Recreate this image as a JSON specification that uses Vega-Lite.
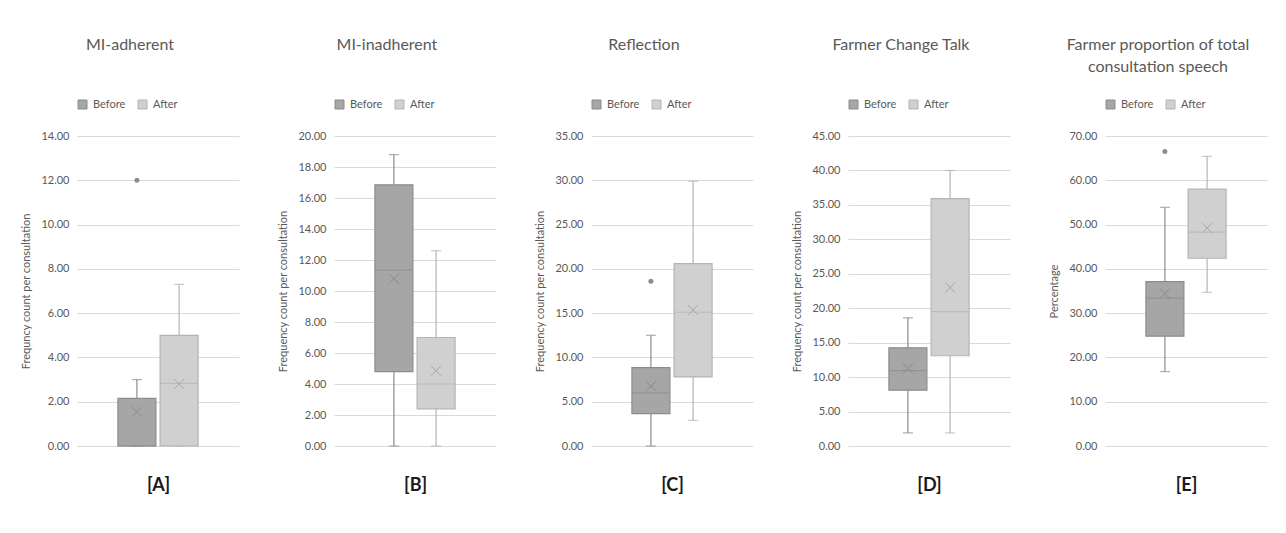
{
  "$schema": "https://vega.github.io/schema/vega-lite/v6.json",
  "background": "white",
  "padding": {"left": 20, "top": 37, "right": 5, "bottom": 5},
  "datasets": {
    "stats": [
      {"panel": "A", "group": "Before", "min": 0, "q1": 0, "median": 0, "q3": 2.15, "max": 3.0, "mean": 1.55},
      {"panel": "A", "group": "After", "min": 0, "q1": 0, "median": 2.83, "q3": 5.0, "max": 7.3, "mean": 2.8},
      {"panel": "B", "group": "Before", "min": 0, "q1": 4.8, "median": 11.35, "q3": 16.85, "max": 18.8, "mean": 10.8},
      {"panel": "B", "group": "After", "min": 0, "q1": 2.4, "median": 4.0, "q3": 7.0, "max": 12.6, "mean": 4.85},
      {"panel": "C", "group": "Before", "min": 0, "q1": 3.65, "median": 6.0, "q3": 8.85, "max": 12.5, "mean": 6.75},
      {"panel": "C", "group": "After", "min": 2.9, "q1": 7.8, "median": 15.1, "q3": 20.6, "max": 29.9, "mean": 15.35},
      {"panel": "D", "group": "Before", "min": 1.9, "q1": 8.1, "median": 10.95, "q3": 14.25, "max": 18.6, "mean": 11.25},
      {"panel": "D", "group": "After", "min": 1.9, "q1": 13.1, "median": 19.5, "q3": 35.9, "max": 40.0, "mean": 23.0},
      {"panel": "E", "group": "Before", "min": 16.8, "q1": 24.8, "median": 33.4, "q3": 37.1, "max": 53.9, "mean": 34.4},
      {"panel": "E", "group": "After", "min": 34.7, "q1": 42.4, "median": 48.3, "q3": 58.0, "max": 65.4, "mean": 49.2}
    ],
    "outliers": [
      {"panel": "A", "group": "Before", "value": 12.0},
      {"panel": "C", "group": "Before", "value": 18.6},
      {"panel": "E", "group": "Before", "value": 66.5}
    ]
  },
  "config": {
    "font": "Lato",
    "view": {"stroke": null},
    "title": {"fontSize": 16, "fontWeight": "normal", "color": "#595959", "anchor": "middle", "frame": "bounds", "lineHeight": 22, "font": "Lato"},
    "axis": {"labelFont": "Lato", "titleFont": "Lato", "labelFontSize": 11, "labelColor": "#595959", "titleFontSize": 11, "titleFontWeight": "normal", "titleColor": "#595959", "gridColor": "#d9d9d9", "gridWidth": 1, "labelOverlap": false},
    "axisY": {"ticks": false, "domain": false, "labelPadding": 8, "titlePadding": 9, "labelOverlap": false},
    "legend": {"orient": "top", "direction": "horizontal", "symbolType": "square", "symbolSize": 81, "symbolStrokeWidth": 1, "labelFont": "Lato", "labelFontSize": 11, "labelColor": "#595959", "offset": 25, "columnPadding": 10, "labelOffset": 5}
  },
  "bounds": "flush",
  "spacing": 95,
  "resolve": {
    "scale": {"x": "independent", "y": "independent", "fill": "independent", "stroke": "independent"},
    "legend": {"fill": "independent", "stroke": "independent"}
  },
  "hconcat": [
    {
      "width": 162, "height": 310,
      "title": {"text": "MI-adherent", "offset": 46},
      "data": {"name": "stats"},
      "transform": [{"filter": "datum.panel === 'A'"}],
      "encoding": {"x": {"field": "group", "type": "nominal", "sort": ["Before", "After"], "scale": {"domain": ["Before", "After"], "paddingInner": 0.1, "paddingOuter": 0.97}, "axis": {"title": "[A]", "labels": false, "ticks": false, "domain": false, "grid": false, "titlePadding": 30, "titleFontSize": 18, "titleFontWeight": "bold", "titleColor": "#1a1a1a"}}},
      "layer": [
        {"mark": {"type": "rule", "strokeWidth": 1.2}, "encoding": {"y": {"field": "min", "type": "quantitative", "title": "Frequncy count per consultation", "scale": {"domain": [0, 14], "nice": false}, "axis": {"values": [0, 2, 4, 6, 8, 10, 12, 14], "format": ".2f"}}, "y2": {"field": "max"}, "color": {"condition": {"test": "datum.group === 'Before'", "value": "#8c8c8c"}, "value": "#b4b4b4"}}},
        {"mark": {"type": "tick", "size": 10, "thickness": 1.2}, "encoding": {"y": {"field": "max", "type": "quantitative", "title": "Frequncy count per consultation", "axis": {"values": [0, 2, 4, 6, 8, 10, 12, 14], "format": ".2f"}}, "color": {"condition": {"test": "datum.group === 'Before'", "value": "#8c8c8c"}, "value": "#b4b4b4"}}},
        {"mark": {"type": "tick", "size": 10, "thickness": 1.2}, "encoding": {"y": {"field": "min", "type": "quantitative", "title": "Frequncy count per consultation", "axis": {"values": [0, 2, 4, 6, 8, 10, 12, 14], "format": ".2f"}}, "color": {"condition": {"test": "datum.group === 'Before'", "value": "#8c8c8c"}, "value": "#b4b4b4"}}},
        {"mark": {"type": "bar", "strokeWidth": 1.2}, "encoding": {"y": {"field": "q1", "type": "quantitative", "title": "Frequncy count per consultation", "axis": {"values": [0, 2, 4, 6, 8, 10, 12, 14], "format": ".2f"}}, "y2": {"field": "q3"}, "fill": {"field": "group", "type": "nominal", "scale": {"domain": ["Before", "After"], "range": ["#a6a6a6", "#d0d0d0"]}, "legend": {"title": null}}, "stroke": {"field": "group", "type": "nominal", "scale": {"domain": ["Before", "After"], "range": ["#8c8c8c", "#b4b4b4"]}, "legend": {"title": null}}}},
        {"mark": {"type": "tick", "size": 38, "thickness": 1.2}, "encoding": {"y": {"field": "median", "type": "quantitative", "title": "Frequncy count per consultation", "axis": {"values": [0, 2, 4, 6, 8, 10, 12, 14], "format": ".2f"}}, "color": {"condition": {"test": "datum.group === 'Before'", "value": "#8c8c8c"}, "value": "#b4b4b4"}}},
        {"mark": {"type": "point", "shape": "M-1,-1L1,1M-1,1L1,-1", "size": 100, "filled": false, "strokeWidth": 1, "opacity": 1}, "encoding": {"y": {"field": "mean", "type": "quantitative", "title": "Frequncy count per consultation", "axis": {"values": [0, 2, 4, 6, 8, 10, 12, 14], "format": ".2f"}}, "color": {"condition": {"test": "datum.group === 'Before'", "value": "#8a8a8a"}, "value": "#a8a8a8"}}},
        {"data": {"name": "outliers"}, "transform": [{"filter": "datum.panel === 'A'"}], "mark": {"type": "point", "shape": "circle", "filled": true, "size": 25, "opacity": 1}, "encoding": {"y": {"field": "value", "type": "quantitative", "title": "Frequncy count per consultation", "axis": {"values": [0, 2, 4, 6, 8, 10, 12, 14], "format": ".2f"}}, "color": {"value": "#8c8c8c"}}}
      ]
    },
    {
      "width": 162, "height": 310,
      "title": {"text": "MI-inadherent", "offset": 46},
      "data": {"name": "stats"},
      "transform": [{"filter": "datum.panel === 'B'"}],
      "encoding": {"x": {"field": "group", "type": "nominal", "sort": ["Before", "After"], "scale": {"domain": ["Before", "After"], "paddingInner": 0.1, "paddingOuter": 0.97}, "axis": {"title": "[B]", "labels": false, "ticks": false, "domain": false, "grid": false, "titlePadding": 30, "titleFontSize": 18, "titleFontWeight": "bold", "titleColor": "#1a1a1a"}}},
      "layer": [
        {"mark": {"type": "rule", "strokeWidth": 1.2}, "encoding": {"y": {"field": "min", "type": "quantitative", "title": "Frequency count per consultation", "scale": {"domain": [0, 20], "nice": false}, "axis": {"values": [0, 2, 4, 6, 8, 10, 12, 14, 16, 18, 20], "format": ".2f"}}, "y2": {"field": "max"}, "color": {"condition": {"test": "datum.group === 'Before'", "value": "#8c8c8c"}, "value": "#b4b4b4"}}},
        {"mark": {"type": "tick", "size": 10, "thickness": 1.2}, "encoding": {"y": {"field": "max", "type": "quantitative", "title": "Frequency count per consultation", "axis": {"values": [0, 2, 4, 6, 8, 10, 12, 14, 16, 18, 20], "format": ".2f"}}, "color": {"condition": {"test": "datum.group === 'Before'", "value": "#8c8c8c"}, "value": "#b4b4b4"}}},
        {"mark": {"type": "tick", "size": 10, "thickness": 1.2}, "encoding": {"y": {"field": "min", "type": "quantitative", "title": "Frequency count per consultation", "axis": {"values": [0, 2, 4, 6, 8, 10, 12, 14, 16, 18, 20], "format": ".2f"}}, "color": {"condition": {"test": "datum.group === 'Before'", "value": "#8c8c8c"}, "value": "#b4b4b4"}}},
        {"mark": {"type": "bar", "strokeWidth": 1.2}, "encoding": {"y": {"field": "q1", "type": "quantitative", "title": "Frequency count per consultation", "axis": {"values": [0, 2, 4, 6, 8, 10, 12, 14, 16, 18, 20], "format": ".2f"}}, "y2": {"field": "q3"}, "fill": {"field": "group", "type": "nominal", "scale": {"domain": ["Before", "After"], "range": ["#a6a6a6", "#d0d0d0"]}, "legend": {"title": null}}, "stroke": {"field": "group", "type": "nominal", "scale": {"domain": ["Before", "After"], "range": ["#8c8c8c", "#b4b4b4"]}, "legend": {"title": null}}}},
        {"mark": {"type": "tick", "size": 38, "thickness": 1.2}, "encoding": {"y": {"field": "median", "type": "quantitative", "title": "Frequency count per consultation", "axis": {"values": [0, 2, 4, 6, 8, 10, 12, 14, 16, 18, 20], "format": ".2f"}}, "color": {"condition": {"test": "datum.group === 'Before'", "value": "#8c8c8c"}, "value": "#b4b4b4"}}},
        {"mark": {"type": "point", "shape": "M-1,-1L1,1M-1,1L1,-1", "size": 100, "filled": false, "strokeWidth": 1, "opacity": 1}, "encoding": {"y": {"field": "mean", "type": "quantitative", "title": "Frequency count per consultation", "axis": {"values": [0, 2, 4, 6, 8, 10, 12, 14, 16, 18, 20], "format": ".2f"}}, "color": {"condition": {"test": "datum.group === 'Before'", "value": "#8a8a8a"}, "value": "#a8a8a8"}}}
      ]
    },
    {
      "width": 162, "height": 310,
      "title": {"text": "Reflection", "offset": 46},
      "data": {"name": "stats"},
      "transform": [{"filter": "datum.panel === 'C'"}],
      "encoding": {"x": {"field": "group", "type": "nominal", "sort": ["Before", "After"], "scale": {"domain": ["Before", "After"], "paddingInner": 0.1, "paddingOuter": 0.97}, "axis": {"title": "[C]", "labels": false, "ticks": false, "domain": false, "grid": false, "titlePadding": 30, "titleFontSize": 18, "titleFontWeight": "bold", "titleColor": "#1a1a1a"}}},
      "layer": [
        {"mark": {"type": "rule", "strokeWidth": 1.2}, "encoding": {"y": {"field": "min", "type": "quantitative", "title": "Frequency count per consultation", "scale": {"domain": [0, 35], "nice": false}, "axis": {"values": [0, 5, 10, 15, 20, 25, 30, 35], "format": ".2f"}}, "y2": {"field": "max"}, "color": {"condition": {"test": "datum.group === 'Before'", "value": "#8c8c8c"}, "value": "#b4b4b4"}}},
        {"mark": {"type": "tick", "size": 10, "thickness": 1.2}, "encoding": {"y": {"field": "max", "type": "quantitative", "title": "Frequency count per consultation", "axis": {"values": [0, 5, 10, 15, 20, 25, 30, 35], "format": ".2f"}}, "color": {"condition": {"test": "datum.group === 'Before'", "value": "#8c8c8c"}, "value": "#b4b4b4"}}},
        {"mark": {"type": "tick", "size": 10, "thickness": 1.2}, "encoding": {"y": {"field": "min", "type": "quantitative", "title": "Frequency count per consultation", "axis": {"values": [0, 5, 10, 15, 20, 25, 30, 35], "format": ".2f"}}, "color": {"condition": {"test": "datum.group === 'Before'", "value": "#8c8c8c"}, "value": "#b4b4b4"}}},
        {"mark": {"type": "bar", "strokeWidth": 1.2}, "encoding": {"y": {"field": "q1", "type": "quantitative", "title": "Frequency count per consultation", "axis": {"values": [0, 5, 10, 15, 20, 25, 30, 35], "format": ".2f"}}, "y2": {"field": "q3"}, "fill": {"field": "group", "type": "nominal", "scale": {"domain": ["Before", "After"], "range": ["#a6a6a6", "#d0d0d0"]}, "legend": {"title": null}}, "stroke": {"field": "group", "type": "nominal", "scale": {"domain": ["Before", "After"], "range": ["#8c8c8c", "#b4b4b4"]}, "legend": {"title": null}}}},
        {"mark": {"type": "tick", "size": 38, "thickness": 1.2}, "encoding": {"y": {"field": "median", "type": "quantitative", "title": "Frequency count per consultation", "axis": {"values": [0, 5, 10, 15, 20, 25, 30, 35], "format": ".2f"}}, "color": {"condition": {"test": "datum.group === 'Before'", "value": "#8c8c8c"}, "value": "#b4b4b4"}}},
        {"mark": {"type": "point", "shape": "M-1,-1L1,1M-1,1L1,-1", "size": 100, "filled": false, "strokeWidth": 1, "opacity": 1}, "encoding": {"y": {"field": "mean", "type": "quantitative", "title": "Frequency count per consultation", "axis": {"values": [0, 5, 10, 15, 20, 25, 30, 35], "format": ".2f"}}, "color": {"condition": {"test": "datum.group === 'Before'", "value": "#8a8a8a"}, "value": "#a8a8a8"}}},
        {"data": {"name": "outliers"}, "transform": [{"filter": "datum.panel === 'C'"}], "mark": {"type": "point", "shape": "circle", "filled": true, "size": 25, "opacity": 1}, "encoding": {"y": {"field": "value", "type": "quantitative", "title": "Frequency count per consultation", "axis": {"values": [0, 5, 10, 15, 20, 25, 30, 35], "format": ".2f"}}, "color": {"value": "#8c8c8c"}}}
      ]
    },
    {
      "width": 162, "height": 310,
      "title": {"text": "Farmer Change Talk", "offset": 46},
      "data": {"name": "stats"},
      "transform": [{"filter": "datum.panel === 'D'"}],
      "encoding": {"x": {"field": "group", "type": "nominal", "sort": ["Before", "After"], "scale": {"domain": ["Before", "After"], "paddingInner": 0.1, "paddingOuter": 0.97}, "axis": {"title": "[D]", "labels": false, "ticks": false, "domain": false, "grid": false, "titlePadding": 30, "titleFontSize": 18, "titleFontWeight": "bold", "titleColor": "#1a1a1a"}}},
      "layer": [
        {"mark": {"type": "rule", "strokeWidth": 1.2}, "encoding": {"y": {"field": "min", "type": "quantitative", "title": "Frequency count per consultation", "scale": {"domain": [0, 45], "nice": false}, "axis": {"values": [0, 5, 10, 15, 20, 25, 30, 35, 40, 45], "format": ".2f"}}, "y2": {"field": "max"}, "color": {"condition": {"test": "datum.group === 'Before'", "value": "#8c8c8c"}, "value": "#b4b4b4"}}},
        {"mark": {"type": "tick", "size": 10, "thickness": 1.2}, "encoding": {"y": {"field": "max", "type": "quantitative", "title": "Frequency count per consultation", "axis": {"values": [0, 5, 10, 15, 20, 25, 30, 35, 40, 45], "format": ".2f"}}, "color": {"condition": {"test": "datum.group === 'Before'", "value": "#8c8c8c"}, "value": "#b4b4b4"}}},
        {"mark": {"type": "tick", "size": 10, "thickness": 1.2}, "encoding": {"y": {"field": "min", "type": "quantitative", "title": "Frequency count per consultation", "axis": {"values": [0, 5, 10, 15, 20, 25, 30, 35, 40, 45], "format": ".2f"}}, "color": {"condition": {"test": "datum.group === 'Before'", "value": "#8c8c8c"}, "value": "#b4b4b4"}}},
        {"mark": {"type": "bar", "strokeWidth": 1.2}, "encoding": {"y": {"field": "q1", "type": "quantitative", "title": "Frequency count per consultation", "axis": {"values": [0, 5, 10, 15, 20, 25, 30, 35, 40, 45], "format": ".2f"}}, "y2": {"field": "q3"}, "fill": {"field": "group", "type": "nominal", "scale": {"domain": ["Before", "After"], "range": ["#a6a6a6", "#d0d0d0"]}, "legend": {"title": null}}, "stroke": {"field": "group", "type": "nominal", "scale": {"domain": ["Before", "After"], "range": ["#8c8c8c", "#b4b4b4"]}, "legend": {"title": null}}}},
        {"mark": {"type": "tick", "size": 38, "thickness": 1.2}, "encoding": {"y": {"field": "median", "type": "quantitative", "title": "Frequency count per consultation", "axis": {"values": [0, 5, 10, 15, 20, 25, 30, 35, 40, 45], "format": ".2f"}}, "color": {"condition": {"test": "datum.group === 'Before'", "value": "#8c8c8c"}, "value": "#b4b4b4"}}},
        {"mark": {"type": "point", "shape": "M-1,-1L1,1M-1,1L1,-1", "size": 100, "filled": false, "strokeWidth": 1, "opacity": 1}, "encoding": {"y": {"field": "mean", "type": "quantitative", "title": "Frequency count per consultation", "axis": {"values": [0, 5, 10, 15, 20, 25, 30, 35, 40, 45], "format": ".2f"}}, "color": {"condition": {"test": "datum.group === 'Before'", "value": "#8a8a8a"}, "value": "#a8a8a8"}}}
      ]
    },
    {
      "width": 162, "height": 310,
      "title": {"text": ["Farmer proportion of total", "consultation speech"], "offset": 24},
      "data": {"name": "stats"},
      "transform": [{"filter": "datum.panel === 'E'"}],
      "encoding": {"x": {"field": "group", "type": "nominal", "sort": ["Before", "After"], "scale": {"domain": ["Before", "After"], "paddingInner": 0.1, "paddingOuter": 0.97}, "axis": {"title": "[E]", "labels": false, "ticks": false, "domain": false, "grid": false, "titlePadding": 30, "titleFontSize": 18, "titleFontWeight": "bold", "titleColor": "#1a1a1a"}}},
      "layer": [
        {"mark": {"type": "rule", "strokeWidth": 1.2}, "encoding": {"y": {"field": "min", "type": "quantitative", "title": "Percentage", "scale": {"domain": [0, 70], "nice": false}, "axis": {"values": [0, 10, 20, 30, 40, 50, 60, 70], "format": ".2f"}}, "y2": {"field": "max"}, "color": {"condition": {"test": "datum.group === 'Before'", "value": "#8c8c8c"}, "value": "#b4b4b4"}}},
        {"mark": {"type": "tick", "size": 10, "thickness": 1.2}, "encoding": {"y": {"field": "max", "type": "quantitative", "title": "Percentage", "axis": {"values": [0, 10, 20, 30, 40, 50, 60, 70], "format": ".2f"}}, "color": {"condition": {"test": "datum.group === 'Before'", "value": "#8c8c8c"}, "value": "#b4b4b4"}}},
        {"mark": {"type": "tick", "size": 10, "thickness": 1.2}, "encoding": {"y": {"field": "min", "type": "quantitative", "title": "Percentage", "axis": {"values": [0, 10, 20, 30, 40, 50, 60, 70], "format": ".2f"}}, "color": {"condition": {"test": "datum.group === 'Before'", "value": "#8c8c8c"}, "value": "#b4b4b4"}}},
        {"mark": {"type": "bar", "strokeWidth": 1.2}, "encoding": {"y": {"field": "q1", "type": "quantitative", "title": "Percentage", "axis": {"values": [0, 10, 20, 30, 40, 50, 60, 70], "format": ".2f"}}, "y2": {"field": "q3"}, "fill": {"field": "group", "type": "nominal", "scale": {"domain": ["Before", "After"], "range": ["#a6a6a6", "#d0d0d0"]}, "legend": {"title": null}}, "stroke": {"field": "group", "type": "nominal", "scale": {"domain": ["Before", "After"], "range": ["#8c8c8c", "#b4b4b4"]}, "legend": {"title": null}}}},
        {"mark": {"type": "tick", "size": 38, "thickness": 1.2}, "encoding": {"y": {"field": "median", "type": "quantitative", "title": "Percentage", "axis": {"values": [0, 10, 20, 30, 40, 50, 60, 70], "format": ".2f"}}, "color": {"condition": {"test": "datum.group === 'Before'", "value": "#8c8c8c"}, "value": "#b4b4b4"}}},
        {"mark": {"type": "point", "shape": "M-1,-1L1,1M-1,1L1,-1", "size": 100, "filled": false, "strokeWidth": 1, "opacity": 1}, "encoding": {"y": {"field": "mean", "type": "quantitative", "title": "Percentage", "axis": {"values": [0, 10, 20, 30, 40, 50, 60, 70], "format": ".2f"}}, "color": {"condition": {"test": "datum.group === 'Before'", "value": "#8a8a8a"}, "value": "#a8a8a8"}}},
        {"data": {"name": "outliers"}, "transform": [{"filter": "datum.panel === 'E'"}], "mark": {"type": "point", "shape": "circle", "filled": true, "size": 25, "opacity": 1}, "encoding": {"y": {"field": "value", "type": "quantitative", "title": "Percentage", "axis": {"values": [0, 10, 20, 30, 40, 50, 60, 70], "format": ".2f"}}, "color": {"value": "#8c8c8c"}}}
      ]
    }
  ]
}
